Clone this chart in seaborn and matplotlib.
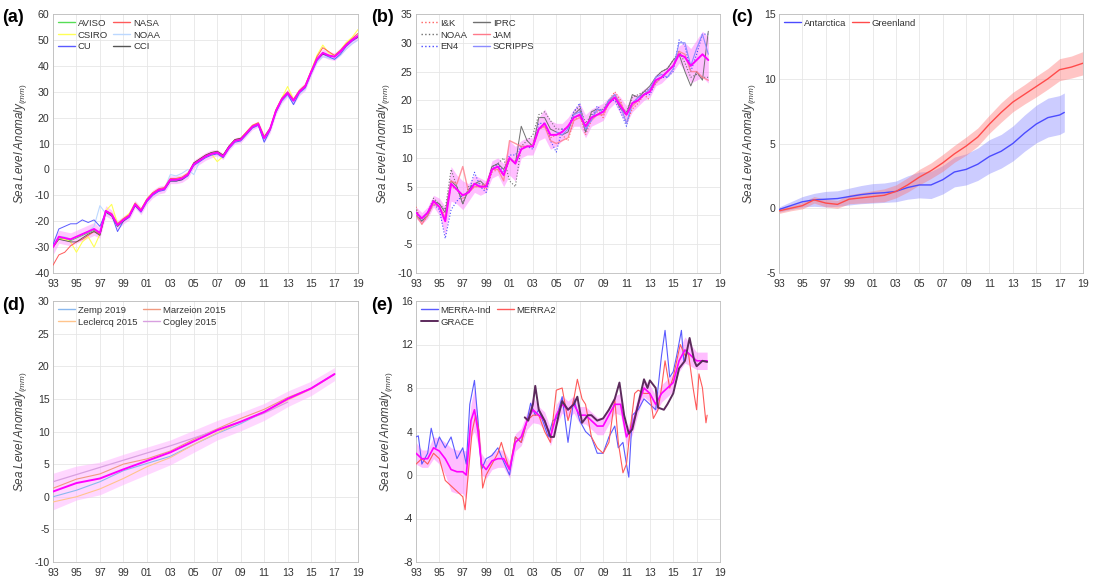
import numpy as np
import seaborn as sns
import matplotlib.pyplot as plt

# ---------------- (a) satellite altimetry GMSL ----------------
a_years = np.arange(1993, 2019.01, 0.5)
a_mean = [-30, -26, -26.5, -27, -26, -25, -24, -23, -24.5, -16,
          -17.5, -21.5, -19.5, -18, -13.5, -16, -12, -9.5, -8, -7.5,
          -4, -4, -3.5, -2, 2, 3.5, 5, 6, 6.5, 5,
          8.5, 11, 11.5, 14, 16.5, 17.5, 12, 15.5, 22.5, 27,
          29.5, 26.5, 30, 32, 37.5, 42.5, 45, 44, 43.5, 45.5,
          48, 50, 51.5]
a_spread = [3, 2.5, 2.5, 2.5, 2.5, 2.5, 2.5, 2.5, 2, 2,
            1.8, 1.8, 1.5, 1.5, 1.5, 1.5, 1.5, 1.5, 1.5, 1.5,
            1.5, 1.5, 1.5, 1.5, 1.5, 1.5, 1.5, 1.5, 1.2, 1.2,
            1.2, 1.2, 1.2, 1.2, 1.2, 1.2, 1.5, 1.5, 1.5, 1.5,
            1.5, 1.5, 1.5, 1.5, 1.5, 1.5, 1.5, 1.5, 1.5, 1.5,
            1.5, 1.5, 1.5]
a_aviso = [-30, -26.5, -27, -27.5, -26.5, -25.5, -24.5, -23.5, -25, -16.5,
           -17.5, -22, -19.5, -18, -13.5, -16, -12, -9.5, -8, -7.5,
           -4, -4, -3.5, -2, 2, 3.5, 5, 6, 6.5, 5,
           8.5, 11, 11.5, 14, 16.5, 17.5, 12, 15.5, 22.5, 27,
           29.5, 26.5, 30, 32, 37.5, 42.5, 45, 44, 43.5, 45.5,
           48, 50, 51.5]
a_csiro = [-30, -27, -27, -28, -32, -28, -26, -30, -25, -16,
           -13.5, -21, -19, -17, -13, -15.5, -11.5, -9, -8, -7,
           -4, -3.5, -3, -1.5, 2, 4, 5, 6, 3, 5,
           8.5, 11, 12, 14.5, 17, 18, 13, 15, 23, 27.5,
           32, 27, 30.5, 32.5, 38, 44, 48, 45, 44, 46,
           49, 51, 54]
a_cu = [-29, -23, -22, -21, -21, -19.5, -20.5, -19.5, -22, -16.5,
        -17.5, -24, -20, -18.5, -14, -16.5, -12.5, -10, -8.5, -8,
        -4.5, -4.5, -4, -2.5, 1.5, 3, 4.5, 5.5, 6, 4.5,
        8, 10.5, 11, 13.5, 16, 17, 10.5, 15, 22, 26.5,
        29, 25, 29.5, 31.5, 37, 42, 44.5, 43.5, 42.5, 44.5,
        47.5, 49.5, 51]
a_nasa = [-37, -33, -32, -29.5, -28, -27, -25.5, -24, -25, -16,
          -17, -21, -19, -17.5, -13, -15.5, -11.5, -9, -7.5, -7,
          -3.5, -3.5, -3, -1.5, 2.5, 4, 5.5, 6.5, 7, 5.5,
          9, 11.5, 12, 14.5, 17, 18, 12.5, 16, 23, 27.5,
          30, 27, 30.5, 32.5, 38, 43.5, 47, 45.5, 44, 46,
          48.5, 50.5, 52.5]
a_noaa = [-30, -26, -26, -27, -26, -25, -24, -22, -14, -17,
          -18, -22, -20, -18, -14, -16.5, -12.5, -10, -8.5, -7.5,
          -2, -2.5, -1.5, 0, -2, 3, 5, 6, 6.5, 5,
          8.5, 10.5, 11, 13.5, 16, 17, 11, 15, 22, 26,
          28.5, 25.5, 29, 31, 36.5, 41.5, 43.5, 43, 42.5, 44,
          46.5, 48.5, 50]
a_cci = [-30, -27, -27.5, -28, -28, -26.5, -25, -24, -25.5, -16.5,
         -18, -22, -20, -18, -14, -16, -12, -9.5, -8, -7.5,
         -4.5, -4.5, -4, -2, 2.5, 4, 5.5, 6.5, 7, 5.5,
         9, 11.5, 12, 14, 16.5, 17.5, 12.5, 15.5, 22.5, 27,
         29.5, 26.5, 30, 32, 37.5, 42.5, 44.5, 44, 43.5, 45.5,
         48, 50, 51]

# ---------------- (b) steric ----------------
b_years = np.arange(1993, 2018.01, 0.5)
b_mean = [0.5, -0.5, 0.5, 2.5, 1.5, -1, 5.5, 4.5, 3.5, 4,
          5.5, 5, 5, 8, 8.5, 7, 10, 9, 11.5, 12,
          12, 15, 16, 14, 14, 14.5, 15.5, 17, 17.5, 15.5,
          17, 17.5, 18, 19.5, 20.5, 19, 17.5, 19.5, 20, 21,
          21.5, 23.5, 24, 25, 26, 28, 27.5, 26, 27, 28,
          27]
b_spread = [1, 1, 1, 1, 1.5, 2.5, 3, 2.5, 2.5, 1.5,
            1.5, 1.5, 1, 1.5, 1.5, 2, 3, 3, 1.5, 1.5,
            1.5, 2, 2.5, 2.5, 2, 1.5, 1.5, 1.5, 2, 2,
            1.5, 1.5, 1.5, 1, 1, 1.5, 1.5, 1.5, 1, 1,
            1, 1, 1, 1, 1, 1.5, 2.5, 3, 3.5, 4,
            4]
b_ik = [1.5, -1.5, 0, 2.5, 1.5, 0, 5, 4.5, 3, 4,
        5, 5, 4.5, 7.5, 8, 7, 9.5, 9.5, 11.5, 12,
        12.5, 15, 15.5, 13.5, 14, 14, 13, 16.5, 17.5, 14,
        16.5, 18.5, 17, 20, 21.5, 20, 16, 18.5, 19.5, 21,
        20]
b_noaa = [1, -1, 0.5, 3, 2, 1, 8, 5, 2, 5,
          5.5, 5.5, 5, 8.5, 9, 10, 6, 5, 12, 13,
          14, 17.5, 18, 16.5, 15, 15, 15, 18, 19, 16,
          17.5, 18, 18.5, 20, 21, 19, 18, 20.5, 21, 21.5,
          22, 24, 25, 25.5, 27, 28.5, 26.5, 24, 24.5, 24,
          24]
b_en4 = [0.5, -1, 0, 2, 1, -4, 1, 2.5, 3.5, 4,
         7.5, 5, 4, 8, 9, 7.5, 10.5, 10.5, 12, 12,
         11.5, 16, 16, 13, 11, 15, 15, 18, 19.5, 14.5,
         17, 19, 18, 20, 20, 18, 15.5, 19.5, 20.5, 21,
         21, 23, 24, 24, 25, 30.5, 29.5, 25, 28, 31.5,
         31.5]
b_iprc = [0, -1, 0, 2.5, 2, 0.5, 6, 5, 2, 4.5,
          5.5, 6, 5, 8.5, 9, 8, 10, 9, 15.5, 13,
          12, 17, 17, 15, 14.5, 14, 14.5, 17.5, 18.5, 14.5,
          18, 18.5, 18, 20, 20.5, 18.5, 17.5, 21, 20.5, 21.5,
          22.5, 24, 25, 25.5, 27, 28, 25, 22.5, 25, 23.5,
          32]
b_jam = [0, -1.5, 0, 2, 1.5, -0.5, 6, 5.5, 8.5, 4,
         5, 5, 5.5, 8, 8, 6, 13, 12.5, 12, 12,
         12, 15, 15.5, 13, 12.5, 13, 13.5, 16.5, 17, 15.5,
         16.5, 17.5, 17.5, 19.5, 21, 19.5, 17.5, 19, 20, 21,
         21.5, 23, 24, 25, 26, 28.5, 28, 25, 25, 24,
         23.5]
b_scripps_years = np.arange(2005, 2018.01, 0.5)
b_scripps = [14.5, 14, 15, 17.5, 18, 15, 16.5, 18.5, 18, 20,
             21, 19, 16, 19.5, 20.5, 21, 22, 24, 24.5, 24,
             25.5, 30, 30, 26, 29, 31.5, 28]

# ---------------- (c) ice sheets ----------------
c_green_years = np.arange(1993, 2019.01, 1.0)
c_green = [-0.2, 0.0, 0.2, 0.65, 0.4, 0.3, 0.7, 0.8, 0.9, 1.0,
           1.3, 1.8, 2.4, 2.9, 3.5, 4.2, 4.8, 5.5, 6.5, 7.4,
           8.2, 8.8, 9.4, 10.0, 10.7, 10.9, 11.2]
c_green_spread = [0.2, 0.2, 0.25, 0.25, 0.3, 0.3, 0.35, 0.4, 0.45, 0.5,
                  0.5, 0.55, 0.6, 0.6, 0.65, 0.65, 0.7, 0.7, 0.7, 0.75,
                  0.75, 0.75, 0.8, 0.8, 0.85, 0.85, 0.9]
c_ant_years = [1993, 1994, 1995, 1996, 1997, 1998, 1999, 2000, 2001, 2002,
               2003, 2004, 2005, 2006, 2007, 2008, 2009, 2010, 2011, 2012,
               2013, 2014, 2015, 2016, 2017, 2017.4]
c_ant = [-0.1, 0.2, 0.5, 0.65, 0.7, 0.75, 0.9, 1.05, 1.15, 1.2,
         1.3, 1.6, 1.8, 1.8, 2.2, 2.8, 3.0, 3.4, 4.0, 4.4,
         5.0, 5.8, 6.5, 7.0, 7.2, 7.4]
c_ant_spread = [0.2, 0.3, 0.4, 0.5, 0.6, 0.6, 0.65, 0.7, 0.75, 0.75,
                0.8, 0.9, 1.0, 1.05, 1.1, 1.15, 1.2, 1.25, 1.3, 1.3,
                1.35, 1.4, 1.45, 1.5, 1.5, 1.5]

# ---------------- (d) glaciers ----------------
d_years = [1993, 1995, 1997, 1999, 2001, 2003, 2005, 2007, 2009, 2011, 2013, 2015, 2017]
d_mean = [0.8, 2.1, 2.8, 4.2, 5.5, 6.8, 8.5, 10.2, 11.5, 13.0, 15.0, 16.6, 18.8]
d_spread = [2.8, 2.6, 2.5, 2.3, 2.1, 1.9, 1.7, 1.5, 1.4, 1.3, 1.2, 1.1, 1.0]
d_zemp = [0.0, 1.0, 2.3, 4.0, 5.1, 6.2, 8.0, 9.7, 11.2, 13.0, 15.0, 16.6, 18.8]
d_marzeion = [1.3, 2.7, 3.5, 5.0, 5.8, 7.0, 8.8, 10.4, 12.0, 13.4, 15.2, 16.6, 18.8]
d_leclercq = [-0.8, 0.0, 1.2, 2.8, 4.6, 6.0, 8.0, 9.8, 11.5, 13.0, 14.8, 16.5, 18.8]
d_cogley_years = [1993, 1995, 1997, 1999, 2001, 2003, 2005, 2007, 2009, 2011, 2013]
d_cogley = [2.3, 3.4, 4.5, 5.6, 6.7, 7.8, 9.0, 10.2, 11.5, 12.8, 14.5]

# ---------------- (e) terrestrial water storage ----------------
e_mean_years = [1993.0, 1993.5, 1994.0, 1994.5, 1995.0, 1995.5, 1996.0, 1996.5, 1997.0,
                1997.3, 1997.7, 1998.0, 1998.3, 1998.6,
                1999.0, 1999.5, 2000.0, 2000.5, 2001.0, 2001.5, 2002.0, 2002.5, 2003.0, 2003.5,
                2004.0, 2004.5, 2005.0, 2005.5, 2006.0, 2006.5, 2007.0, 2007.5, 2008.0, 2008.5,
                2009.0, 2009.5, 2010.0, 2010.5, 2011.0, 2011.5, 2012.0, 2012.5, 2013.0, 2013.5,
                2014.0, 2014.5, 2015.0, 2015.5, 2016.0, 2016.5, 2017.0, 2017.5, 2017.9]
e_mean = [2.0, 1.5, 1.5, 2.5, 2.2, 1.5, 0.5, 0.3, 0.3, 0.0,
          5.0, 6.0, 4.0, 1.0, 0.5, 1.3, 1.5, 1.5, 0.5, 3.0,
          3.5, 5.0, 6.0, 5.5, 5.0, 3.5, 5.5, 6.5, 6.0, 6.5,
          5.5, 5.5, 5.0, 4.5, 4.5, 5.5, 6.5, 6.5, 3.5, 4.5,
          6.5, 8.0, 7.5, 6.5, 7.5, 8.0, 8.5, 10.5, 11.5, 11.0,
          10.5, 10.5, 10.5]
e_spread = [1.0, 0.8, 0.8, 1.0, 1.2, 1.5, 2.0, 2.0, 2.0, 2.2,
            1.5, 2.0, 1.2, 1.0, 0.8, 0.8, 0.8, 0.8, 0.8, 0.8,
            0.8, 0.8, 1.2, 0.8, 0.8, 0.8, 1.0, 0.8, 0.8, 0.8,
            0.8, 0.8, 0.8, 0.8, 0.8, 0.8, 0.8, 1.0, 0.8, 0.8,
            0.8, 0.8, 0.8, 0.8, 0.8, 0.8, 0.8, 1.0, 1.2, 1.0,
            0.8, 0.8, 0.8]
e_merra_ind_years = [1993.0, 1993.2, 1993.5, 1994.0, 1994.3, 1994.7, 1995.0, 1995.5, 1996.0, 1996.5,
                     1997.0, 1997.3, 1997.6, 1998.0, 1998.3, 1998.6, 1999.0, 1999.5, 2000.0, 2000.5,
                     2001.0, 2001.5, 2002.0, 2002.5, 2002.8, 2003.2, 2003.5, 2004.0, 2004.3, 2004.7,
                     2005.0, 2005.5, 2006.0, 2006.5, 2007.0, 2007.5, 2008.0, 2008.5, 2009.0, 2009.5,
                     2010.0, 2010.3, 2010.7, 2011.0, 2011.2, 2011.5, 2012.0, 2012.5, 2013.0, 2013.5,
                     2014.0, 2014.3, 2014.7, 2015.0, 2015.3, 2015.7, 2015.9]
e_merra_ind = [3.5, 3.6, 1.0, 2.0, 4.3, 2.5, 3.5, 2.5, 3.5, 1.5,
               2.5, 1.0, 6.5, 8.7, 5.0, 0.5, 1.5, 1.8, 2.5, 1.2,
               0.0, 3.5, 3.0, 5.0, 6.6, 5.5, 6.0, 4.5, 3.5, 5.0,
               5.2, 7.2, 3.0, 7.0, 5.0, 4.0, 3.5, 2.0, 2.0, 3.5,
               4.5, 2.5, 3.0, 1.0, -0.2, 5.5, 6.0, 7.0, 6.5, 6.0,
               11.0, 13.3, 9.0, 9.5, 11.0, 13.3, 10.5]
e_merra2_years = [1993.0, 1993.5, 1994.0, 1994.5, 1995.0, 1995.5, 1996.0, 1996.5, 1997.0, 1997.2,
                  1997.5, 1997.8, 1998.1, 1998.4, 1998.7, 1999.0, 1999.5, 2000.0, 2000.3, 2000.7,
                  2001.0, 2001.5, 2002.0, 2002.5, 2003.0, 2003.5, 2004.0, 2004.5, 2005.0, 2005.5,
                  2006.0, 2006.5, 2006.8, 2007.2, 2007.5, 2008.0, 2008.5, 2009.0, 2009.5, 2010.0,
                  2010.3, 2010.7, 2011.0, 2011.3, 2011.7, 2012.0, 2012.5, 2013.0, 2013.3, 2013.7,
                  2014.0, 2014.3, 2014.7, 2015.0, 2015.3, 2015.6, 2016.0, 2016.3, 2016.7, 2017.0,
                  2017.2, 2017.5, 2017.8, 2017.9]
e_merra2 = [1.0, 1.5, 1.0, 2.0, 1.5, -0.5, -1.0, -1.5, -2.0, -3.2,
            0.5, 4.0, 5.5, 4.0, -1.2, 0.0, 1.0, 2.0, 3.0, 1.5,
            0.5, 3.5, 3.0, 5.0, 5.5, 5.5, 4.0, 3.0, 7.8, 8.0,
            5.0, 7.0, 8.8, 7.0, 6.5, 3.5, 2.5, 2.0, 3.0, 7.0,
            3.0, 0.2, 1.0, 4.0, 7.5, 7.8, 7.5, 7.5, 5.2, 6.0,
            8.0, 10.5, 8.0, 9.0, 10.5, 12.0, 11.0, 11.2, 8.0, 6.0,
            9.3, 8.0, 4.8, 5.5]
e_grace_years = [2002.3, 2002.6, 2003.0, 2003.2, 2003.5, 2004.0, 2004.5, 2004.8, 2005.2, 2005.5,
                 2006.0, 2006.5, 2006.8, 2007.2, 2007.7, 2008.0, 2008.5, 2009.0, 2009.5, 2010.0,
                 2010.4, 2010.8, 2011.2, 2011.5, 2012.0, 2012.5, 2012.8, 2013.0, 2013.5, 2013.7,
                 2014.2, 2014.5, 2015.0, 2015.5, 2016.0, 2016.4, 2016.8, 2017.0, 2017.5, 2017.9]
e_grace = [5.3, 5.0, 6.5, 8.2, 6.0, 5.0, 3.5, 3.5, 5.5, 6.8,
           6.0, 6.5, 7.2, 4.8, 5.5, 5.5, 5.0, 5.2, 6.0, 7.0,
           8.5, 5.5, 3.8, 4.2, 6.5, 8.8, 8.0, 8.7, 8.0, 6.2,
           6.0, 6.5, 7.5, 9.8, 10.5, 12.6, 10.5, 10.0, 10.5, 10.4]

x_ticks = list(range(1993, 2020, 2))
x_labels = ['93', '95', '97', '99', '01', '03', '05', '07', '09', '11', '13', '15', '17', '19']

W, H = 1095, 581


def add_panel(fig, left, top, right, bottom):
    return fig.add_axes([left / W, 1 - bottom / H, (right - left) / W, (bottom - top) / H])


def style_axes(ax, ylim, ystep):
    ax.set_xlim(1993, 2019)
    ax.set_xticks(x_ticks)
    ax.set_xticklabels(x_labels)
    ax.set_ylim(*ylim)
    ax.set_yticks(np.arange(ylim[0], ylim[1] + 0.1, ystep))
    ax.grid(True, color='#e6e6e6', lw=0.6)
    ax.set_axisbelow(True)
    for s in ax.spines.values():
        s.set_color('#bdbdbd')
        s.set_linewidth(0.6)
    ax.tick_params(direction='in', length=2.5, width=0.5, color='#bdbdbd',
                   labelsize=7.6, labelcolor='#333333')
    ax.tick_params(axis='y', pad=2.5)
    ax.tick_params(axis='x', pad=4)
    ax.set_xlabel('')
    ax.set_ylabel(r'Sea Level Anomaly$_{(mm)}$', fontsize=8.4, style='italic',
                  color='#404040', labelpad=4)


def line(ax, t, v, color, lw=0.8, ls='-', alpha=1.0, z=3):
    sns.lineplot(x=t, y=v, ax=ax, color=color, lw=lw, linestyle=ls, alpha=alpha,
                 zorder=z, sort=False, estimator=None)
    return ax.lines[-1]


def band(ax, t, mid, spread, color, alpha):
    mid = np.asarray(mid)
    spread = np.asarray(spread)
    ax.fill_between(t, mid - spread, mid + spread, color=color, alpha=alpha, lw=0, zorder=1)


def legend(ax, handles, labels, ncol=2):
    leg = ax.legend(handles, labels, ncol=ncol, loc='upper left', frameon=False, fontsize=6.8,
                    handlelength=1.8, handletextpad=0.3, columnspacing=0.6, labelspacing=0.3,
                    borderaxespad=0.3, borderpad=0.2, labelcolor='#333333')
    for hl in leg.get_lines():
        hl.set_linewidth(max(hl.get_linewidth(), 1.0))
        hl.set_alpha(1.0)


sns.set_theme(style='whitegrid')
plt.rcParams['font.family'] = ['Liberation Sans', 'DejaVu Sans']
plt.rcParams['mathtext.fontset'] = 'custom'
plt.rcParams['mathtext.it'] = 'Liberation Sans:italic'
plt.rcParams['mathtext.rm'] = 'Liberation Sans'
plt.rcParams['axes.unicode_minus'] = False

fig = plt.figure(figsize=(W / 100, H / 100), dpi=100)
fig.patch.set_facecolor('white')

# (a)
ax = add_panel(fig, 53, 14, 358, 273)
band(ax, a_years, a_mean, a_spread, '#ff9cff', 0.55)
h_aviso = line(ax, a_years, a_aviso, '#55dd55', 0.7)
h_csiro = line(ax, a_years, a_csiro, '#ffff55', 0.8)
h_noaa = line(ax, a_years, a_noaa, '#bcd8ff', 0.8)
h_cu = line(ax, a_years, a_cu, '#5a5aff', 0.7)
h_nasa = line(ax, a_years, a_nasa, '#ff5a5a', 0.7)
h_cci = line(ax, a_years, a_cci, '#555555', 0.6)
line(ax, a_years, a_mean, '#ff00ff', 1.4, z=4)
style_axes(ax, (-40, 60), 10)
legend(ax, [h_aviso, h_csiro, h_cu, h_nasa, h_noaa, h_cci],
       ['AVISO', 'CSIRO', 'CU', 'NASA', 'NOAA', 'CCI'])

# (b)
ax = add_panel(fig, 416, 14, 720, 273)
band(ax, b_years, b_mean, b_spread, '#ff80ff', 0.5)
h_ik = line(ax, b_years[:len(b_ik)], b_ik, '#ff6060', 0.8, ':')
h_noaa = line(ax, b_years, b_noaa, '#707070', 0.8, ':')
h_en4 = line(ax, b_years, b_en4, '#4b4bff', 0.8, ':')
h_iprc = line(ax, b_years, b_iprc, '#707070', 0.7)
h_jam = line(ax, b_years, b_jam, '#ff7a8a', 1.0, alpha=0.8)
h_scr = line(ax, b_scripps_years, b_scripps, '#8c8cff', 0.8)
line(ax, b_years, b_mean, '#ff00ff', 1.4, z=4)
style_axes(ax, (-10, 35), 5)
legend(ax, [h_ik, h_noaa, h_en4, h_iprc, h_jam, h_scr],
       ['I&K', 'NOAA', 'EN4', 'IPRC', 'JAM', 'SCRIPPS'])

# (c)
ax = add_panel(fig, 779, 14, 1083, 273)
band(ax, c_ant_years, c_ant, c_ant_spread, '#8080ff', 0.4)
band(ax, c_green_years, c_green, c_green_spread, '#ff7070', 0.4)
h_ant = line(ax, c_ant_years, c_ant, '#4b4bff', 1.0)
h_gr = line(ax, c_green_years, c_green, '#ff4b4b', 1.0)
style_axes(ax, (-5, 15), 5)
legend(ax, [h_ant, h_gr], ['Antarctica', 'Greenland'])

# (d)
ax = add_panel(fig, 53, 301, 358, 562)
band(ax, d_years, d_mean, d_spread, '#ffb0ff', 0.5)
h_zemp = line(ax, d_years, d_zemp, '#8ab8ee', 0.8)
h_marz = line(ax, d_years, d_marzeion, '#f09a80', 0.8)
h_lecl = line(ax, d_years, d_leclercq, '#ffc48c', 0.8)
h_cog = line(ax, d_cogley_years, d_cogley, '#d8a0e0', 0.9)
line(ax, d_years, d_mean, '#ff00ff', 1.4, z=4)
style_axes(ax, (-10, 30), 5)
legend(ax, [h_zemp, h_lecl, h_marz, h_cog],
       ['Zemp 2019', 'Leclercq 2015', 'Marzeion 2015', 'Cogley 2015'])

# (e)
ax = add_panel(fig, 416, 301, 720, 562)
band(ax, e_mean_years, e_mean, e_spread, '#ff70ff', 0.45)
h_mi = line(ax, e_merra_ind_years, e_merra_ind, '#5a5aff', 0.8)
h_m2 = line(ax, e_merra2_years, e_merra2, '#ff5a5a', 0.8)
line(ax, e_mean_years, e_mean, '#ff00ff', 1.2, z=4)
h_gr = line(ax, e_grace_years, e_grace, '#5c2a5c', 1.4, z=5)
style_axes(ax, (-8, 16), 4)
legend(ax, [h_mi, h_gr, h_m2], ['MERRA-Ind', 'GRACE', 'MERRA2'])

# panel labels
for lab, x, y in [('(a)', 2, 17), ('(b)', 371, 17), ('(c)', 731, 17),
                  ('(d)', 2, 306), ('(e)', 371, 306)]:
    fig.text(x / W, 1 - y / H, lab, fontsize=13, fontweight='bold', va='center', ha='left',
             color='black')

fig.savefig('out.png', dpi=100, facecolor='white')
